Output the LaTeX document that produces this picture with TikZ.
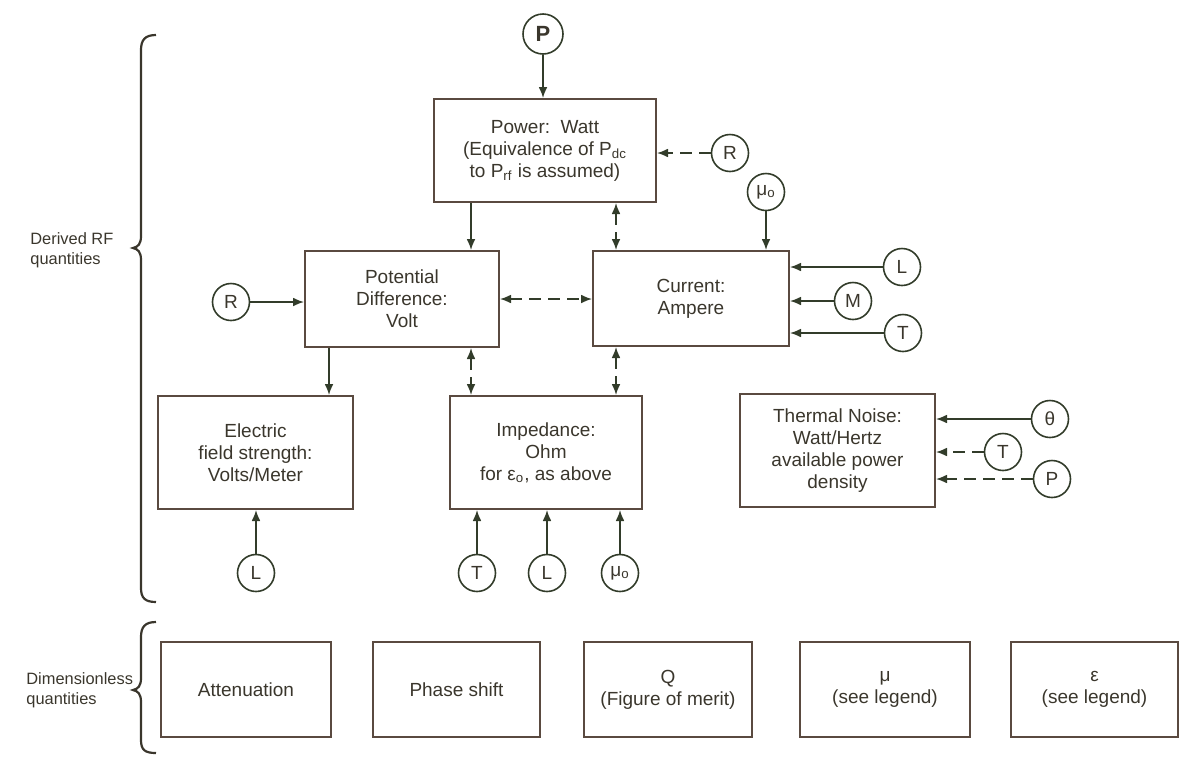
\documentclass[tikz,border=0pt]{standalone}
\usepackage{fontspec}
\setmainfont{Liberation Sans}
\usetikzlibrary{arrows.meta}

\definecolor{ink}{RGB}{58,54,44}
\definecolor{wire}{RGB}{50,60,42}
\definecolor{frame}{RGB}{90,74,64}

\tikzset{
  qbox/.style={draw=frame, line width=1pt, align=center, text=ink, inner sep=2pt},
  qcirc/.style={draw=wire, circle, line width=0.8pt, minimum size=18.5pt, inner sep=0pt, text=ink},
  feed/.style={draw=wire, line width=0.75pt, -{Latex[length=5.5pt,width=4.4pt]}},
  loose/.style={feed, dash pattern=on 6pt off 3.5pt},
  link/.style={draw=wire, line width=0.75pt, dash pattern=on 6pt off 3.5pt,
    {Latex[length=5.5pt,width=4.4pt]}-{Latex[length=5.5pt,width=4.4pt]}},
  brace/.style={draw=ink, line width=1.1pt},
  side/.style={align=left, anchor=west, text=ink, inner sep=0pt, font=\fontsize{8.2}{10}\selectfont},
}

\begin{document}
\begin{tikzpicture}[x=0.5pt, y=-0.5pt, font=\fontsize{9.5}{11}\selectfont]
  \useasboundingbox (0,0) rectangle (1183,756);

  % -- Derived quantities --
  \node[qbox, minimum width=111pt, minimum height=51.5pt] (pwr) at (545,150.5)
    {Power:~~Watt\\(Equivalence of P\textsubscript{dc}\\to P\textsubscript{rf} is assumed)};
  \node[qbox, minimum width=97pt, minimum height=48pt] (pot) at (402,299)
    {Potential\\Difference:\\Volt};
  \node[qbox, minimum width=98pt, minimum height=47.5pt] (cur) at (691,298.5)
    {Current:\\Ampere};
  \node[qbox, minimum width=97.5pt, minimum height=56.5pt] (efield) at (255.5,452.5)
    {Electric\\field strength:\\Volts/Meter};
  \node[qbox, minimum width=96pt, minimum height=56.5pt] (imp) at (546,452.5)
    {Impedance:\\Ohm\\for ε\textsubscript{o}, as above};
  \node[qbox, minimum width=97.5pt, minimum height=56.5pt] (noise) at (837.5,450.5)
    {Thermal Noise:\\Watt/Hertz\\available power\\density};

  % -- Dimensionless quantities --
  \node[qbox, minimum width=85pt, minimum height=47.5pt] (att) at (246,689.5) {Attenuation};
  \node[qbox, minimum width=83.5pt, minimum height=47.5pt] (phase) at (456.5,689.5) {Phase shift};
  \node[qbox, minimum width=84pt, minimum height=47.5pt] (qfac) at (668,689.5) {Q\\(Figure of merit)};
  \node[qbox, minimum width=85pt, minimum height=47.5pt] (perm) at (885,689.5) {μ\\(see legend)};
  \node[qbox, minimum width=83.5pt, minimum height=47.5pt] (eps) at (1094.5,689.5) {ε\\(see legend)};

  % -- Base units --
  \node[qcirc, minimum size=20pt, font=\fontsize{11}{13}\selectfont\bfseries] (pIn) at (543,34) {P};
  \node[qcirc] (rPwr) at (730,153) {R};
  \node[qcirc] (rPot) at (231,302) {R};
  \node[qcirc] (muCur) at (766,192) {μ\textsubscript{o}};
  \node[qcirc] (lCur) at (902,267) {L};
  \node[qcirc] (mCur) at (853,301) {M};
  \node[qcirc] (tCur) at (903,333) {T};
  \node[qcirc] (lEf) at (256,573) {L};
  \node[qcirc] (tImp) at (477,573) {T};
  \node[qcirc] (lImp) at (547,573) {L};
  \node[qcirc] (muImp) at (620,573) {μ\textsubscript{o}};
  \node[qcirc] (thN) at (1050,419) {θ};
  \node[qcirc] (tN) at (1003,452) {T};
  \node[qcirc] (pN) at (1052,479) {P};

  % columns of the vertical links
  \coordinate (colA) at (471,0);
  \coordinate (colB) at (616,0);
  \coordinate (colC) at (329,0);

  % -- Links between quantities --
  \draw[feed] (pwr.south -| colA) -- (pot.north -| colA);
  \draw[link] (pwr.south -| colB) -- (cur.north -| colB);
  \draw[link] (pot.east) -- (pot.east -| cur.west);
  \draw[feed] (pot.south -| colC) -- (efield.north -| colC);
  \draw[link] (pot.south -| colA) -- (imp.north -| colA);
  \draw[link] (cur.south -| colB) -- (imp.north -| colB);

  % -- Units into quantities --
  \draw[feed] (pIn) -- (pIn |- pwr.north);
  \draw[loose] (rPwr) -- (rPwr -| pwr.east);
  \draw[feed] (rPot) -- (rPot -| pot.west);
  \draw[feed] (muCur) -- (muCur |- cur.north);
  \draw[feed] (lCur) -- (lCur -| cur.east);
  \draw[feed] (mCur) -- (mCur -| cur.east);
  \draw[feed] (tCur) -- (tCur -| cur.east);
  \draw[feed] (lEf) -- (lEf |- efield.south);
  \draw[feed] (tImp) -- (tImp |- imp.south);
  \draw[feed] (lImp) -- (lImp |- imp.south);
  \draw[feed] (muImp) -- (muImp |- imp.south);
  \draw[feed] (thN) -- (thN -| noise.east);
  \draw[loose] (tN) -- (tN -| noise.east);
  \draw[loose] (pN) -- (pN -| noise.east);

  % -- Braces --
  \draw[brace] (156,35) .. controls (145,35) and (141,40) .. (141,50) -- (141,236)
    .. controls (141,244) and (138,247) .. (133,248)
    .. controls (138,249) and (141,252) .. (141,260) -- (141,588)
    .. controls (141,598) and (145,602) .. (156,602);
  \draw[brace] (156,622) .. controls (145,622) and (141,627) .. (141,637) -- (141,678)
    .. controls (141,686) and (138,689) .. (133,690)
    .. controls (138,691) and (141,694) .. (141,702) -- (141,740)
    .. controls (141,750) and (145,753) .. (156,753);
  \node[side] (derived) at (30,250) {Derived RF\\quantities};
  \node[side] (dimless) at (26,690) {Dimensionless\\quantities};

\end{tikzpicture}
\end{document}
